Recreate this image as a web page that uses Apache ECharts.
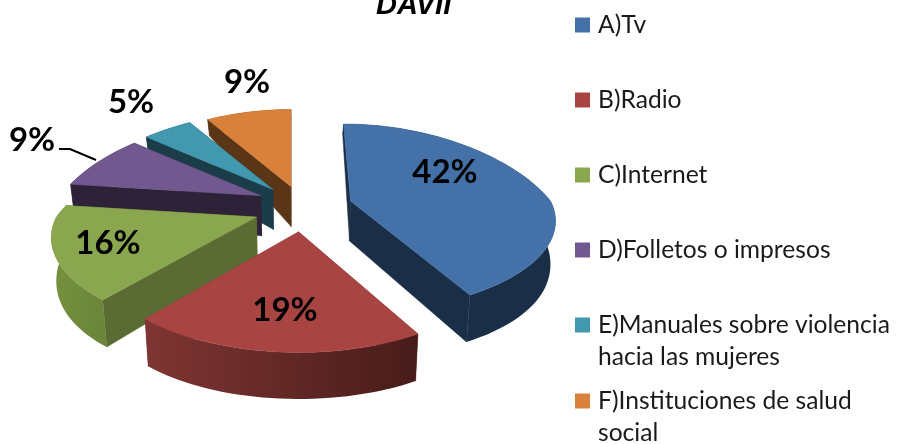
<!DOCTYPE html>
<html><head><meta charset="utf-8">
<style>html,body{margin:0;padding:0;background:#fff}#c{width:897px;height:444px}</style>
<script src="https://cdn.jsdelivr.net/npm/echarts@6/dist/echarts.min.js"></script>
</head><body><div id="c"></div>
<script>
const titleText = 'DAVII';
const categories = ['A)Tv','B)Radio','C)Internet','D)Folletos o impresos','E)Manuales sobre violencia\nhacia las mujeres','F)Instituciones de salud\nsocial'];
const values = [42,19,16,9,5,9];

// styles
const topColors  = ['#4472A8','#A84442','#8AA64F','#71588F','#4198AF','#D9813A'];
const sideColors = ['#1B2E47','#7B3432','#5A6C33','#2E2238','#1A3D49','#5A3516'];
const rimFrom    = ['#1B2E47','#7F3533','#76913F','#2E2238','#1A3D49','#5A3516'];
const rimTo      = ['#1B2E47','#471C1A','#6A8439','#2E2238','#1A3D49','#5A3516'];
const paintRank  = [5,6,4,3,2,1];
const labelPos = [[445,172],[285,310],[108,243],[32,140],[131,102],[247,82]];
const leaderPts = {3:[[59,149],[70,149],[96,160]]};
const apexNudge = [[4,1.5],[2,0],[-1,1.5],[3,0],[3,3],[3,5.5]];
const frontScale = [0.92,1,0.95,1,1,1];
const backSkew = [7,0,0,0,0,0];

const cx=301, cy=206, explodeX=47, explodeY=26, Rx=200, Ry=94, perspY=0.22, perspBackX=0.34;
const total = values.reduce((a,b)=>a+b,0);
const rad = d => d*Math.PI/180;
const starts = values.map((_,i)=>values.slice(0,i).reduce((a,b)=>a+b,0)/total*360);

function wallHeight(v){ return 40+18.3*v-11.7*v*v; }
function project(i,deg,r){
  const mid = rad(starts[i]+values[i]/total*180);
  const ax = cx+explodeX*Math.sin(mid)+apexNudge[i][0], ay = cy-explodeY*Math.cos(mid)+apexNudge[i][1];
  const u = r*Math.sin(rad(deg)), v = -r*Math.cos(rad(deg));
  const sy = 1/(1-perspY*v);
  const sx = v<0 ? 1/(1-perspBackX*v) : sy;
  const x = ax+u*Rx*sx+(v<0?backSkew[i]*v:0), y = ay+v*Ry*sy*(v>0?frontScale[i]:1);
  const h = wallHeight(v);
  return {top:[x,y], bot:[x-(x-cx)*0.02, y+h]};
}

function renderSlice(i){
  return function(params,api){
    const span = api.value(0)/total*360, a0 = starts[i];
    const arc=[]; const n=Math.max(8,Math.ceil(span/2));
    for(let k=0;k<=n;k++) arc.push(project(i,a0+span*k/n,1));
    const apex = project(i,0,0);
    const topPts=[apex.top,...arc.map(p=>p.top)];
    const rimPts=[...arc.map(p=>p.top),...arc.slice().reverse().map(p=>p.bot)];
    const edge=p=>[apex.top,p.top,p.bot,apex.bot];
    const xs=rimPts.map(p=>p[0]); const minX=Math.min(...xs), maxX=Math.max(...xs);
    const grad=new echarts.graphic.LinearGradient(minX,0,maxX,0,[{offset:0,color:rimFrom[i]},{offset:1,color:rimTo[i]}],true);
    const poly=(points,fill,stroke)=>({type:'polygon',shape:{points},style:{fill,stroke:stroke||fill,lineWidth:0.5}});
    const children=[
      poly(edge(arc[0]),sideColors[i]),
      poly(edge(arc[n]),sideColors[i]),
      poly(rimPts,grad,'transparent'),
      poly(topPts,topColors[i])
    ];
    if(leaderPts[i]){
      children.push({type:'polyline',shape:{points:leaderPts[i]},style:{stroke:'#000',lineWidth:2,fill:null}});
    }
    children.push({type:'text',style:{text:api.value(0)+'%',x:labelPos[i][0],y:labelPos[i][1],
      fill:'#000',font:'bold 33px Lato',align:'center',verticalAlign:'middle'}});
    return {type:'group',children};
  };
}

const legendBase={orient:'vertical',selectedMode:false,left:575,itemWidth:15,symbolKeepAspect:false,
  textStyle:{fontFamily:'Lato',fontSize:24.6,lineHeight:32,color:'#1a1a1a',padding:[0,0,0,3]},padding:0};
const tallIcon='path://M0 8.5h15v15h-15z M0 0h0 M0 64h0';
const option={
  animation:false,
  color:topColors,
  title:{text:titleText,left:376,top:-9,padding:0,textStyle:{fontFamily:'Liberation Sans',fontStyle:'italic',fontWeight:'bold',fontSize:29,color:'#000'}},
  legend:[
    {...legendBase,top:9,itemHeight:15,itemGap:43,data:categories.slice(0,4),icon:'rect'},
    {...legendBase,top:309,itemHeight:64,data:[{name:categories[4],icon:tallIcon}]},
    {...legendBase,top:385,itemHeight:64,data:[{name:categories[5],icon:tallIcon}]}
  ],
  series:categories.map((name,i)=>({
    type:'custom',name,coordinateSystem:'none',z:paintRank[i],silent:true,
    itemStyle:{color:topColors[i]},
    data:[[values[i]]],renderItem:renderSlice(i)
  }))
};
const chart=echarts.init(document.getElementById('c'),null,{renderer:'canvas'});
chart.setOption(option);
</script></body></html>
